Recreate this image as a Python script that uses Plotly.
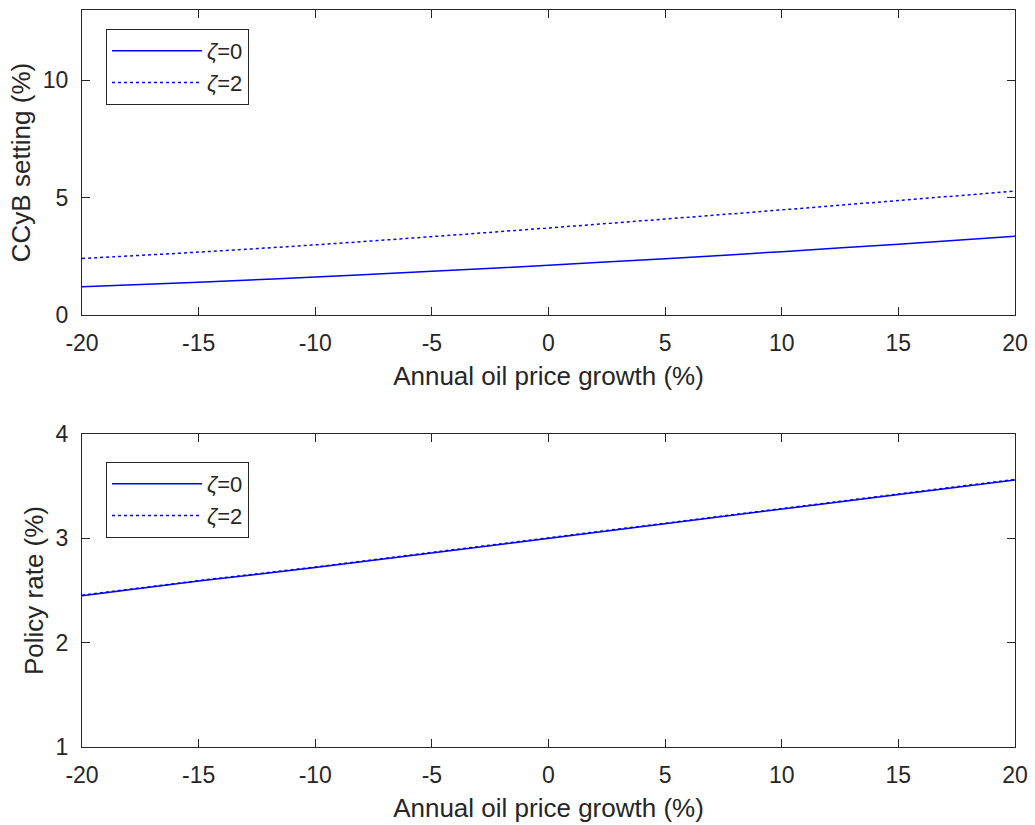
import plotly.graph_objects as go

# Data
oil_growth = [-20, -15, -10, -5, 0, 5, 10, 15, 20]
ccyb_z0 = [1.20, 1.40, 1.62, 1.86, 2.12, 2.40, 2.70, 3.02, 3.36]
ccyb_z2 = [2.41, 2.68, 2.99, 3.34, 3.71, 4.09, 4.48, 4.88, 5.28]
rate_z0 = [2.45, 2.59, 2.72, 2.86, 3.00, 3.14, 3.28, 3.42, 3.56]
rate_z2 = [2.455, 2.595, 2.725, 2.865, 3.005, 3.145, 3.285, 3.425, 3.565]
x_ticks = [-20, -15, -10, -5, 0, 5, 10, 15, 20]
x_ticktext = ["-20", "-15", "-10", "-5", "0", "5", "10", "15", "20"]
top_yticks = [0, 5, 10]
bot_yticks = [1, 2, 3, 4]
names = ["<i>ζ</i>=0", "<i>ζ</i>=2"]

BLUE = "#0000ff"
TXT = "#262626"
FONT = "Liberation Sans, Arial, sans-serif"

fig = go.Figure()
fig.add_trace(go.Scatter(x=oil_growth, y=ccyb_z0, mode="lines", name=names[0], line_shape="spline",
                         line=dict(color=BLUE, width=1.5), xaxis="x", yaxis="y", legend="legend"))
fig.add_trace(go.Scatter(x=oil_growth, y=ccyb_z2, mode="lines", name=names[1], line_shape="spline",
                         line=dict(color=BLUE, width=1.5, dash="dot"), xaxis="x", yaxis="y", legend="legend"))
fig.add_trace(go.Scatter(x=oil_growth, y=rate_z0, mode="lines", name=names[0],
                         line=dict(color=BLUE, width=1.5), xaxis="x2", yaxis="y2", legend="legend2"))
fig.add_trace(go.Scatter(x=oil_growth, y=rate_z2, mode="lines", name=names[1],
                         line=dict(color=BLUE, width=1.5, dash="dot"), xaxis="x2", yaxis="y2", legend="legend2"))

W, H = 1035, 825
xdom = [82 / W, 1015 / W]
ax_common = dict(showline=True, linecolor=TXT, linewidth=1, mirror="ticks", ticks="inside",
                 ticklen=8, tickcolor=TXT, tickwidth=1, showgrid=False, zeroline=False,
                 automargin=False,
                 tickfont=dict(family=FONT, size=23, color=TXT))

title_font = dict(family=FONT, size=26, color=TXT)

legend_common = dict(bgcolor="white", bordercolor=TXT, borderwidth=1,
                     font=dict(family=FONT, size=22, color=TXT),
                     xanchor="left", yanchor="top", tracegroupgap=0, itemwidth=90)

fig.update_layout(
    width=W, height=H,
    margin=dict(l=0, r=0, t=0, b=0),
    paper_bgcolor="white", plot_bgcolor="white",
    showlegend=True,
    xaxis=dict(domain=xdom, range=[-20, 20], tickvals=x_ticks, ticktext=x_ticktext, anchor="y",
               ticklabelstandoff=7,
               title=dict(text="Annual oil price growth (%)", font=title_font, standoff=12), **ax_common),
    yaxis=dict(domain=[1 - 315 / H, 1 - 10 / H], range=[0, 13], tickvals=top_yticks, anchor="x",
               ticklabelstandoff=8,
               title=dict(text="CCyB setting (%)", font=title_font, standoff=4), **ax_common),
    xaxis2=dict(domain=xdom, range=[-20, 20], tickvals=x_ticks, ticktext=x_ticktext, anchor="y2",
                ticklabelstandoff=7,
                title=dict(text="Annual oil price growth (%)", font=title_font, standoff=12), **ax_common),
    yaxis2=dict(domain=[1 - 747 / H, 1 - 434 / H], range=[1, 4], tickvals=bot_yticks, anchor="x2",
                ticklabelstandoff=8,
                title=dict(text="Policy rate (%)", font=title_font, standoff=4), **ax_common),
    legend=dict(x=106 / W, y=1 - 29 / H, **legend_common),
    legend2=dict(x=106 / W, y=1 - 462 / H, **legend_common),
)

fig.write_html("out.html", config={"displayModeBar": False})

# remove the default page margin so the figure fills the window exactly
with open("out.html", "r", encoding="utf-8") as f:
    html = f.read()
html = html.replace("<head>", "<head><style>html,body{margin:0;padding:0;overflow:hidden;}</style>", 1)
with open("out.html", "w", encoding="utf-8") as f:
    f.write(html)
